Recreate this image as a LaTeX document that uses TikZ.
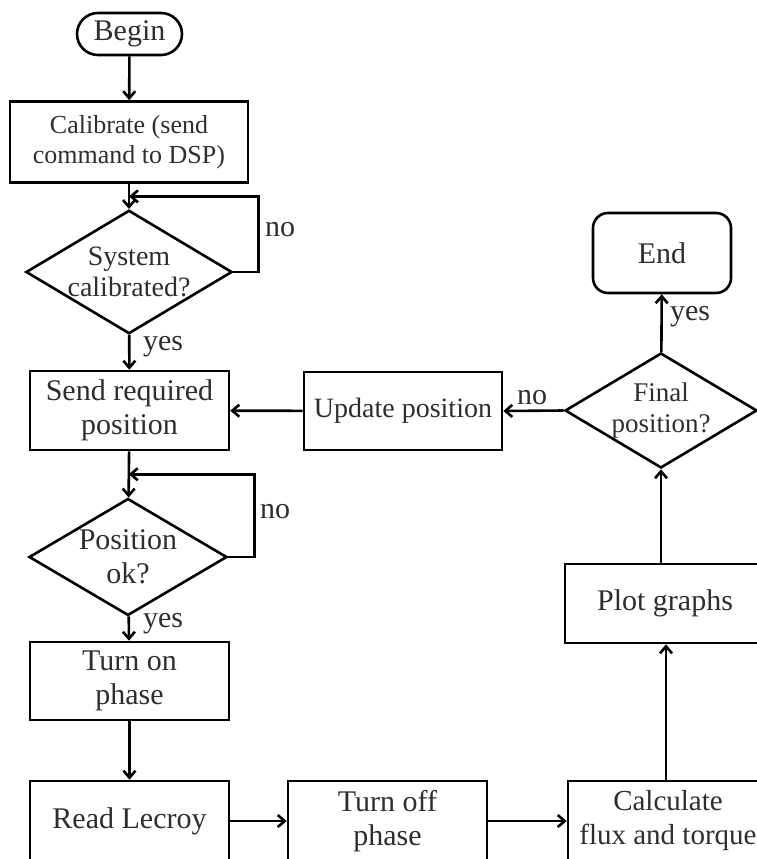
\documentclass[tikz,border=0pt]{standalone}
\usepackage{fontspec}
\setmainfont{Liberation Serif}
\usetikzlibrary{shapes.geometric,arrows.meta,calc}
\definecolor{txt}{HTML}{2E2E2E}
\tikzset{
  base/.style={draw=black, line width=2.6pt, inner sep=0pt, text=txt, align=center,
    font=\fontsize{30}{34}\selectfont},
  procbox/.style={base, rectangle, minimum width=199pt, minimum height=79pt},
  term/.style={base, rectangle, rounded corners=#1},
  decide/.style={base, diamond, aspect=1.67},
  arr/.style={line width=2.6pt, -{Straight Barb[length=7pt,width=12pt]}},
  lbl/.style={text=txt, font=\fontsize{30}{34}\selectfont, inner sep=0pt},
}
\begin{document}
\begin{tikzpicture}[x=1pt,y=-1pt]
\useasboundingbox (0,0) rectangle (757,859);
\clip (0,0) rectangle (757,859);
% nodes
\node[term=21pt, minimum width=105pt, minimum height=42pt] (begin) at (129.5,34) {Begin};
\node[procbox, minimum width=238pt, minimum height=81pt, font=\fontsize{26}{30}\selectfont] (calib) at (129,142) {Calibrate (send\\command to DSP)};
\node[decide, minimum width=196pt, minimum height=118pt, font=\fontsize{28}{31}\selectfont] (sys) at (129,272) {System\\calibrated?};
\node[procbox] (send) at (129.5,410.5) {Send required\\position};
\node[decide, minimum width=198pt, minimum height=117pt] (pos) at (128,557) {Position\\ok?};
\node[procbox, minimum height=78pt] (turnon) at (129.5,681) {Turn on\\phase};
\node[procbox, minimum height=80pt] (read) at (129.5,821) {Read Lecroy};
\node[procbox, minimum height=80pt] (turnoff) at (387.5,821) {Turn off\\phase};
\node[procbox, minimum width=200pt, minimum height=80pt, font=\fontsize{29}{34}\selectfont] (calc) at (668,821) {Calculate\\flux and torque};
\node[procbox, minimum width=200pt, minimum height=79pt] (plot) at (665,603.5) {Plot graphs};
\node[decide, minimum width=192pt, minimum height=115pt, font=\fontsize{27}{31}\selectfont] (final) at (661,410.5) {Final\\position?};
\node[term=15pt, minimum width=138pt, minimum height=80pt] (end) at (662,253) {End};
\node[procbox, minimum width=198pt, minimum height=78pt, font=\fontsize{28}{32}\selectfont] (update) at (403,411) {Update position};
% connectors
\draw[arr] (begin) -- (calib);
\draw[arr] (calib) -- (sys);
\coordinate (sysin) at ($(calib.south)!0.5!(sys.north)$);
\draw[arr] (sys.east) -- ++(25,0) |- (sysin);
\draw[arr] (sys) -- (send);
\draw[arr] (send) -- (pos);
\coordinate (posin) at ($(send.south)!0.5!(pos.north)$);
\draw[arr] (pos.east) -- ++(26,0) |- (posin);
\draw[arr] (pos) -- (turnon);
\draw[arr] (turnon) -- (read);
\draw[arr] (read) -- (turnoff);
\draw[arr] (turnoff) -- (calc);
\draw[arr] (calc.north -| plot.north) ++(1,0) coordinate (cup) -- (cup |- plot.south);
\draw[arr] (plot.north -| final.south) -- (final.south);
\draw[arr] (final) -- (end);
\draw[arr] (final.west) -- (update.east);
\draw[arr] (update) -- (send);
% labels
\node[lbl] (l1) at (280,230) {no};
\node[lbl] (l2) at (163,347) {yes};
\node[lbl] (l3) at (275,512) {no};
\node[lbl] (l4) at (163,624) {yes};
\node[lbl] (l5) at (690,317) {yes};
\node[lbl] (l6) at (532,398) {no};
\end{tikzpicture}
\end{document}
